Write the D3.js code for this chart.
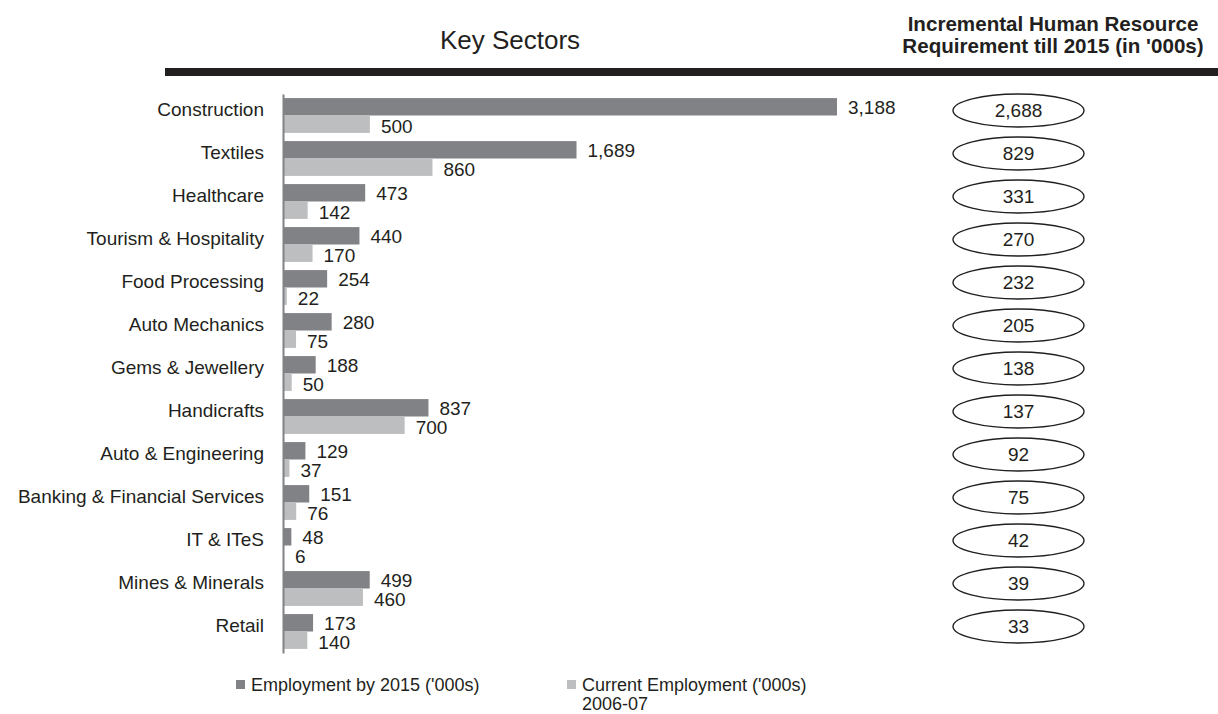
<!DOCTYPE html>
<html>
<head>
<meta charset="utf-8">
<script src="https://cdn.jsdelivr.net/npm/d3@7"></script>
<style>
  body { margin: 0; background: #fff; }
  svg { display: block; font-family: "Liberation Sans", Arial, sans-serif; }
</style>
</head>
<body>
<svg id="chart" width="1218" height="714"></svg>
<script>
// Data ('000s)
const sectors = ["Construction", "Textiles", "Healthcare", "Tourism & Hospitality", "Food Processing",
    "Auto Mechanics", "Gems & Jewellery", "Handicrafts", "Auto & Engineering",
    "Banking & Financial Services", "IT & ITeS", "Mines & Minerals", "Retail"];
const emp2015 = [3188, 1689, 473, 440, 254, 280, 188, 837, 129, 151, 48, 499, 173];
const empCurrent = [500, 860, 142, 170, 22, 75, 50, 700, 37, 76, 6, 460, 140];
const incremental = [2688, 829, 331, 270, 232, 205, 138, 137, 92, 75, 42, 39, 33];
const seriesNames = ["Employment by 2015 ('000s)", "Current Employment ('000s)"];

const darkGrey = "#808285", lightGrey = "#bcbec0", ink = "#231f20";

const svg = d3.select("#chart");
const fmt = d3.format(",");

const rows = sectors.map((s, i) => ({ sector: s, y2015: emp2015[i], current: empCurrent[i], inc: incremental[i] }));

const y = d3.scaleBand().domain(sectors).range([94, 653]).paddingInner(0.19).paddingOuter(0.095);
const sub = d3.scaleBand().domain(["y2015", "current"]).range([0, y.bandwidth()]);
const x = d3.scaleLinear().domain([0, d3.max(emp2015)]).range([283, 837]);
const colour = d3.scaleOrdinal().domain(["y2015", "current"]).range([darkGrey, lightGrey]);

// Headings
svg.append("text")
    .attr("x", 510).attr("y", 49)
    .attr("text-anchor", "middle")
    .style("font-size", "26px").style("fill", ink)
    .text("Key Sectors");

svg.append("text")
    .attr("text-anchor", "middle")
    .style("font-size", "20.6px").style("font-weight", "bold").style("fill", ink)
    .selectAll("tspan")
    .data(["Incremental Human Resource", "Requirement till 2015 (in '000s)"])
    .enter().append("tspan")
    .attr("x", 1053).attr("y", (d, i) => 31 + i * 22)
    .text(d => d);

svg.append("rect")
    .attr("x", 165).attr("y", 68).attr("width", 1218 - 165).attr("height", 8)
    .style("fill", ink);

// Bars
const g = svg.selectAll("g.row")
    .data(rows)
    .enter().append("g")
    .attr("class", "row")
    .attr("transform", d => `translate(0,${y(d.sector)})`);

g.selectAll("rect")
    .data(d => ["y2015", "current"].map(k => ({ key: k, value: d[k] })))
    .enter().append("rect")
    .attr("x", x(0))
    .attr("y", d => sub(d.key))
    .attr("width", d => x(d.value) - x(0))
    .attr("height", sub.bandwidth())
    .style("fill", d => colour(d.key));

g.selectAll("text.val")
    .data(d => ["y2015", "current"].map(k => ({ key: k, value: d[k] })))
    .enter().append("text")
    .attr("class", "val")
    .attr("x", d => x(d.value) + 11)
    .attr("y", d => sub(d.key) + sub.bandwidth() - (d.key === "y2015" ? 2 : 0))
    .style("font-size", "19px").style("fill", ink)
    .text(d => fmt(d.value));

// Category axis
const axis = svg.append("g")
    .attr("transform", `translate(${x(0)},0)`)
    .call(d3.axisLeft(y).tickSize(0).tickPadding(19));
axis.select(".domain").attr("stroke", darkGrey).attr("stroke-width", 2);
axis.selectAll(".tick text")
    .attr("y", -6)
    .style("font-size", "19px").style("fill", ink)
    .style("font-family", "'Liberation Sans', Arial, sans-serif");

// Incremental requirement ellipses
const ell = svg.selectAll("g.inc")
    .data(rows)
    .enter().append("g")
    .attr("class", "inc")
    .attr("transform", d => `translate(1018.5,${y(d.sector) + y.bandwidth() / 2 - 5})`);

ell.append("ellipse")
    .attr("rx", 65.5).attr("ry", 16.5)
    .style("fill", "#fff").style("stroke", ink).style("stroke-width", 1.4);

ell.append("text")
    .attr("text-anchor", "middle")
    .attr("dy", "0.36em")
    .style("font-size", "19px").style("fill", ink)
    .text(d => fmt(d.inc));

// Legend
const legend = [
    { key: "y2015", x: 236, lines: [seriesNames[0]] },
    { key: "current", x: 567, lines: [seriesNames[1], "2006-07"] }
];
const lg = svg.selectAll("g.legend")
    .data(legend)
    .enter().append("g")
    .attr("class", "legend")
    .attr("transform", d => `translate(${d.x},680)`);

lg.append("rect")
    .attr("width", 9).attr("height", 9)
    .style("fill", d => colour(d.key));

lg.append("text")
    .style("font-size", "18px").style("fill", ink)
    .selectAll("tspan")
    .data(d => d.lines)
    .enter().append("tspan")
    .attr("x", 15).attr("y", (d, i) => 11 + i * 19)
    .text(d => d);
</script>
</body>
</html>
